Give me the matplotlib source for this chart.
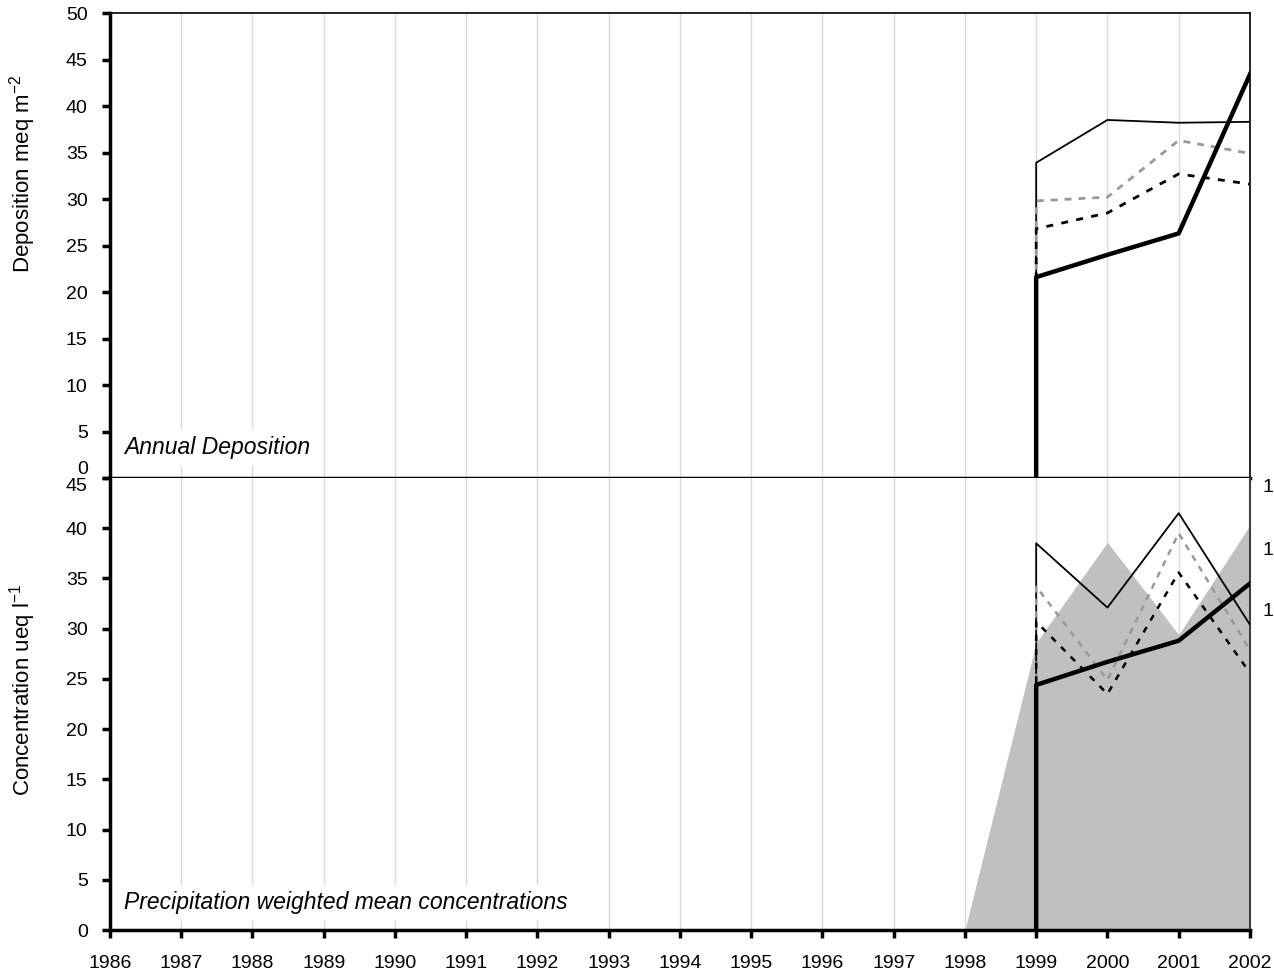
import matplotlib.pyplot as plt
import numpy as np

plt.rcParams['font.family'] = ['Liberation Sans', 'DejaVu Sans']

years = list(range(1986, 2003))
# series start at 1999; the leading 0 reproduces the drop to the axis at 1999
x_series = [1999, 1999, 2000, 2001, 2002]

# annual deposition, meq m-2
dep_thin = [0, 33.9, 38.5, 38.2, 38.3]
dep_grey = [0, 29.8, 30.2, 36.3, 34.9]
dep_dot = [0, 26.8, 28.5, 32.7, 31.6]
dep_thick = [0, 21.6, 24.0, 26.3, 43.4]

# precipitation weighted mean concentrations, ueq l-1
area_x = [1998, 1999, 2000, 2001, 2002]
conc_area = [0, 28.6, 38.6, 29.4, 40.3]
conc_thin = [0, 38.5, 32.1, 41.5, 30.4]
conc_grey = [0, 34.2, 24.9, 39.5, 27.9]
conc_dot = [0, 30.7, 23.5, 35.6, 25.6]
conc_thick = [0, 24.4, 26.7, 28.8, 34.5]

right_ticks = [44.3, 38.0, 31.9]

fig = plt.figure(figsize=(12.74, 9.71), dpi=100)
ax1 = fig.add_axes([0.0863, 0.5077, 0.8948, 0.4789])
ax2 = fig.add_axes([0.0863, 0.0422, 0.8948, 0.4655])

fs = 14
lab_fs = 16
grid_c = '#d9d9d9'


def style(ax, ymax):
    ax.set_xlim(1986, 2002)
    ax.set_ylim(0, ymax)
    ax.set_yticks(np.arange(0, ymax + 1, 5))
    for yr in years:
        ax.axvline(yr, color=grid_c, lw=1, zorder=0)
    ax.spines['left'].set_linewidth(2.5)
    ax.spines['bottom'].set_linewidth(2.5)
    ax.tick_params(axis='y', direction='out', length=6, width=2.5, labelsize=fs, pad=10)
    ax.tick_params(axis='x', direction='out', length=6, width=2.5, labelsize=fs, pad=12)


style(ax1, 50)
style(ax2, 45)

# top panel
ax1.plot(x_series, dep_thin, color='black', lw=1.3, zorder=3)
ax1.plot(x_series, dep_grey, color='#999999', lw=2, ls=(0, (2.5, 2.5)), zorder=3)
ax1.plot(x_series, dep_dot, color='black', lw=2, ls=(0, (2.5, 3)), zorder=3)
ax1.plot(x_series, dep_thick, color='black', lw=3.2, zorder=4)
ax1.set_xticks(years)
ax1.tick_params(axis='x', length=0, labelbottom=False)
ax1.spines['top'].set_linewidth(1.2)
ax1.spines['right'].set_linewidth(1.2)
ax1.set_ylabel('Deposition meq m$^{\\mathregular{-2}}$', fontsize=lab_fs)
ax1.yaxis.set_label_coords(-0.063, 0.654)
ax1.text(0.012, 0.065, 'Annual Deposition', transform=ax1.transAxes, fontsize=16.5,
         style='italic', va='center', ha='left', zorder=5,
         bbox=dict(facecolor='white', edgecolor='none', pad=5))
lbls = ax1.get_yticklabels()
lbls[0].set_va('bottom')

# bottom panel
ax2.fill_between(area_x, conc_area, color='#c0c0c0', lw=0, zorder=1)
ax2.plot(x_series, conc_thin, color='black', lw=1.3, zorder=3)
ax2.plot(x_series, conc_grey, color='#999999', lw=1.8, ls=(0, (2.5, 2.5)), zorder=3)
ax2.plot(x_series, conc_dot, color='black', lw=1.8, ls=(0, (2.5, 3)), zorder=3)
ax2.plot(x_series, conc_thick, color='black', lw=3.2, zorder=4)
ax2.set_xticks(years)
ax2.set_xticklabels([str(y) for y in years])
ax2.spines['top'].set_visible(False)
ax2.spines['right'].set_color('#404040')
ax2.spines['right'].set_linewidth(1.5)
ax2.set_ylabel('Concentration ueq l$^{\\mathregular{-1}}$', fontsize=lab_fs)
ax2.yaxis.set_label_coords(-0.063, 0.531)
ax2.text(0.012, 0.06, 'Precipitation weighted mean concentrations', transform=ax2.transAxes,
         fontsize=16.5, style='italic', va='center', ha='left', zorder=5,
         bbox=dict(facecolor='white', edgecolor='none', pad=5))
lbls2 = ax2.get_yticklabels()
lbls2[-1].set_va('top')

# truncated secondary axis labels on the right
axr = ax2.twinx()
axr.set_ylim(0, 45)
axr.set_yticks(right_ticks)
axr.set_yticklabels(['1'] * len(right_ticks))
axr.tick_params(axis='y', length=0, labelsize=fs, pad=9)
for s in axr.spines.values():
    s.set_visible(False)

fig.savefig('out.png', dpi=100)
